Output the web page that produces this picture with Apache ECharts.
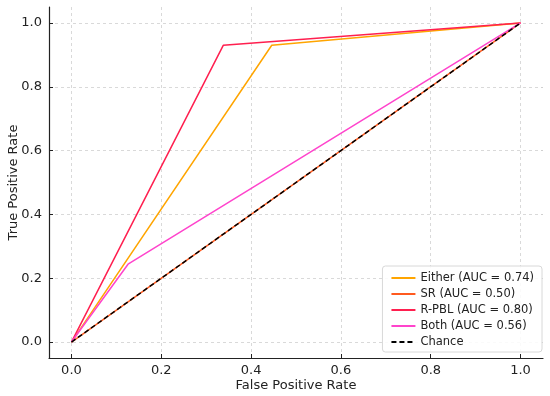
<!DOCTYPE html>
<html><head><meta charset="utf-8">
<script src="https://cdn.jsdelivr.net/npm/echarts@6/dist/echarts.min.js"></script>
<style>html,body{margin:0;padding:0;background:#fff}#c{width:550px;height:396px}</style>
</head><body><div id="c"></div>
<script>
const seriesNames = ["Either (AUC = 0.74)", "SR (AUC = 0.50)", "R-PBL (AUC = 0.80)", "Both (AUC = 0.56)", "Chance"];
const eitherFPR = [0, 0.446, 1];
const eitherTPR = [0, 0.93, 1];
const srFPR = [0, 1];
const srTPR = [0, 1];
const rpblFPR = [0, 0.338, 1];
const rpblTPR = [0, 0.93, 1];
const bothFPR = [0, 0.126, 1];
const bothTPR = [0, 0.244, 1];
const chanceFPR = [0, 1];
const chanceTPR = [0, 1];
const tickValues = [0, 0.2, 0.4, 0.6, 0.8, 1.0];
const colors = ["#ffa500", "#ff5a1f", "#ff1f4f", "#ff44cc", "#000000"];

function pts(xs, ys){ return xs.map((x,i)=>[x, ys[i]]); }
const dataSets = [pts(eitherFPR,eitherTPR), pts(srFPR,srTPR), pts(rpblFPR,rpblTPR), pts(bothFPR,bothTPR), pts(chanceFPR,chanceTPR)];

const axisCommon = {
  type: 'value', min: -0.05, max: 1.05,
  axisLine: {show: true, onZero: false, lineStyle: {color: '#222', width: 1.2}},
  axisTick: {show: true, inside: true, length: 4, customValues: tickValues, lineStyle: {color: '#222'}},
  axisLabel: {customValues: tickValues, color: '#222', fontSize: 13, fontFamily: 'DejaVu Sans', formatter: v => v.toFixed(1)},
  splitLine: {show: true, lineStyle: {color: '#d0d0d0', type: [3, 3], width: 0.8}},
  nameLocation: 'middle', nameMoveOverlap: false,
  nameTextStyle: {color: '#222', fontSize: 13, fontFamily: 'DejaVu Sans'}
};

const chart = echarts.init(document.getElementById('c'), null, {renderer: 'canvas'});
chart.setOption({
  animation: false,
  backgroundColor: '#fff',
  grid: {left: 49, right: 7, top: 7, bottom: 38, containLabel: false, outerBoundsMode: 'none'},
  xAxis: Object.assign({}, axisCommon, {name: 'False Positive Rate', nameGap: 21, axisLabel: Object.assign({}, axisCommon.axisLabel, {margin: 6})}),
  yAxis: Object.assign({}, axisCommon, {name: 'True Positive Rate', nameGap: 29, axisLabel: Object.assign({}, axisCommon.axisLabel, {margin: 7})}),
  legend: {
    orient: 'vertical', right: 8, bottom: 44,
    itemStyle: {opacity: 0, color: 'rgba(0,0,0,0)', borderWidth: 0},
    backgroundColor: 'rgba(255,255,255,0.85)', borderColor: '#d8d8d8', borderWidth: 1, borderRadius: 3,
    padding: [6, 8, 4, 8], itemGap: 4, itemWidth: 24, itemHeight: 12,
    textStyle: {fontSize: 11.5, color: '#222', fontFamily: 'DejaVu Sans'},
    data: seriesNames
  },
  series: seriesNames.map((n, i) => ({
    name: n, type: 'line', data: dataSets[i], symbol: 'none', z: i === 4 ? 3 : 2 + i*0.1,
    color: colors[i],
    lineStyle: {color: colors[i], width: 1.5, type: i === 4 ? [5, 3] : 'solid'}
  }))
});
</script></body></html>
